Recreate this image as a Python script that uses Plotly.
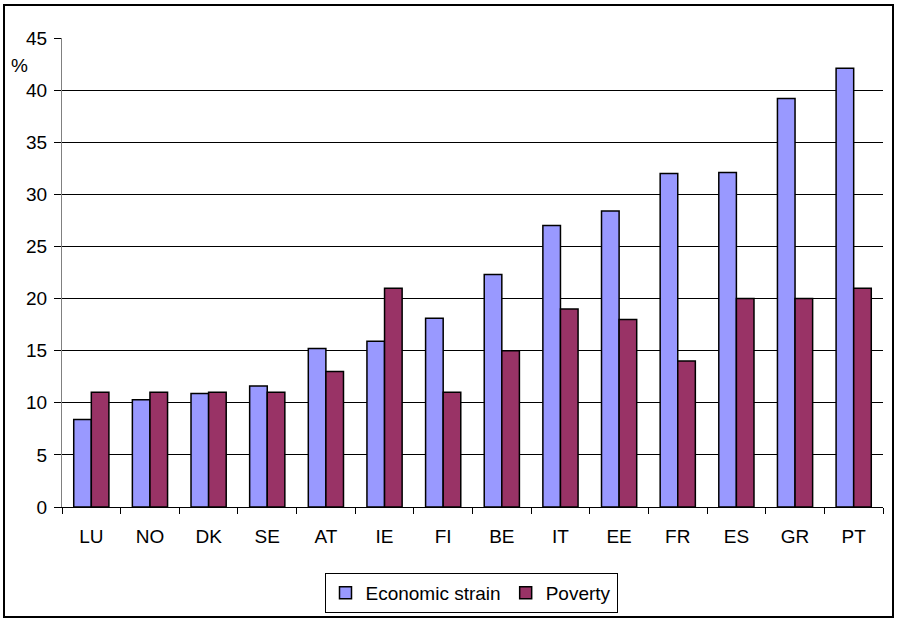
import plotly.graph_objects as go

countries = ["LU", "NO", "DK", "SE", "AT", "IE", "FI", "BE", "IT", "EE", "FR", "ES", "GR", "PT"]
economic_strain = [8.4, 10.3, 10.9, 11.6, 15.2, 15.9, 18.1, 22.3, 27.0, 28.4, 32.0, 32.1, 39.2, 42.1]
poverty = [11, 11, 11, 11, 13, 21, 11, 15, 19, 18, 14, 20, 20, 21]
y_ticks = [0, 5, 10, 15, 20, 25, 30, 35, 40, 45]

FONT = "Liberation Sans, Arial, sans-serif"

fig = go.Figure()
fig.add_trace(go.Bar(x=countries, y=economic_strain, name="Economic strain",
                     marker=dict(color="#9999FF", line=dict(color="black", width=1.5))))
fig.add_trace(go.Bar(x=countries, y=poverty, name="Poverty",
                     marker=dict(color="#993366", line=dict(color="black", width=1.5))))

W, H = 897, 619
L, R, T, B = 62, 14, 38, 112
pw, ph = W - L - R, H - T - B

def px(x):
    return (x - L) / pw

def py(y):
    return (H - B - y) / ph

fig.update_layout(
    width=W, height=H,
    margin=dict(l=L, r=R, t=T, b=B, autoexpand=False),
    paper_bgcolor="white", plot_bgcolor="white",
    font=dict(family=FONT, size=19, color="black"),
    barmode="group", bargap=0.4, bargroupgap=0,
    showlegend=True,
    legend=dict(orientation="h", x=471 / W, xanchor="center",
                xref="container", yref="container",
                y=1 - 573 / H, yanchor="top",
                bordercolor="black", borderwidth=1, font=dict(size=19),
                itemwidth=30, tracegroupgap=0),
    xaxis=dict(showline=True, linecolor="black", linewidth=1, ticks="outside",
               tickson="boundaries", ticklen=6, tickcolor="black",
               showgrid=False, tickfont=dict(size=19), ticklabelstandoff=12,
               automargin=False),
    yaxis=dict(range=[0, 45], tickvals=y_ticks, showline=True, linecolor="#808080",
               linewidth=1, ticks="outside", ticklen=7, tickcolor="black",
               showgrid=True, gridcolor="black", gridwidth=1, zeroline=False,
               tickfont=dict(size=19), ticklabelstandoff=3, automargin=False),
    shapes=[dict(type="rect", xref="paper", yref="paper",
                 x0=px(4), x1=px(893), y0=py(617), y1=py(5),
                 line=dict(color="black", width=2), fillcolor="rgba(0,0,0,0)",
                 layer="below")],
    annotations=[dict(text="%", xref="paper", yref="paper", x=px(19), y=py(66),
                      xanchor="center", yanchor="middle", showarrow=False,
                      font=dict(size=19))],
)

fig.write_html("out.html")
